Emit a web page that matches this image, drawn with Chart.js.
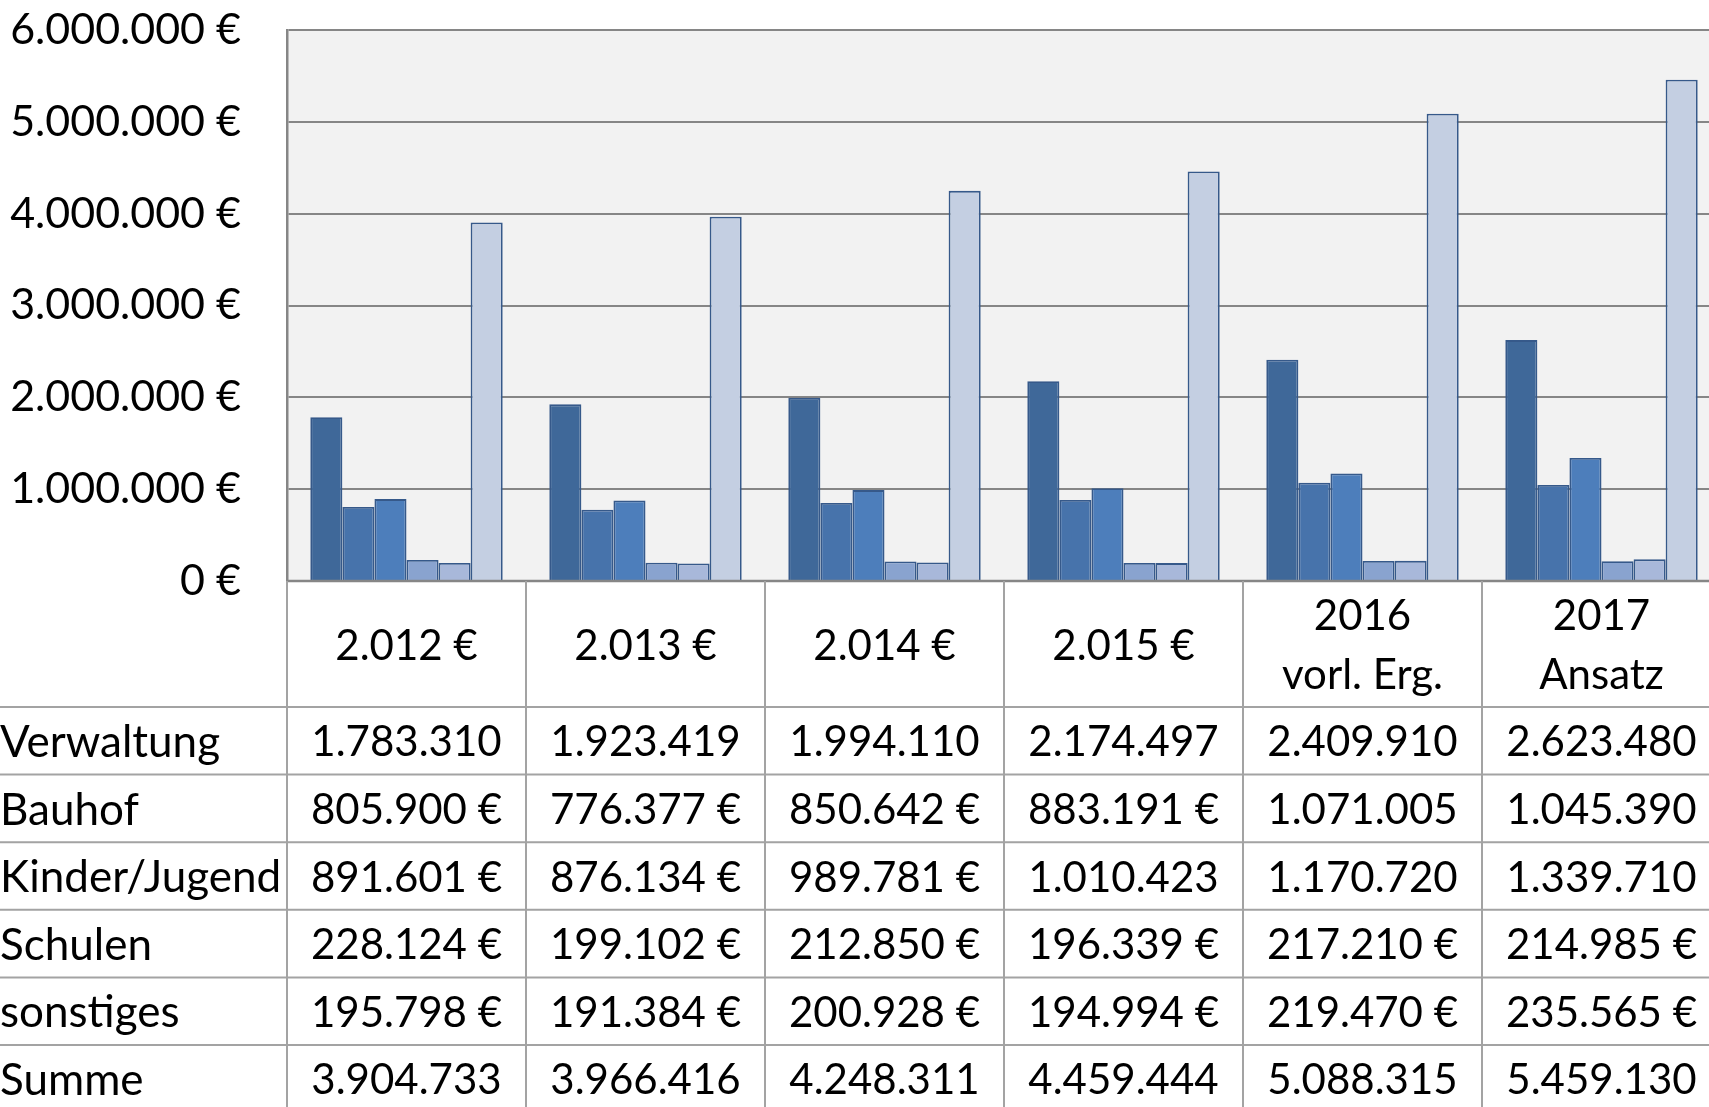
<!DOCTYPE html>
<html>
<head>
<meta charset="utf-8">
<script src="https://cdn.jsdelivr.net/npm/chart.js@4.4.1/dist/chart.umd.min.js"></script>
<style>
  html, body { margin: 0; padding: 0; background: #fff; overflow: hidden; }
  #wrap { position: absolute; left: 0; top: 0; }
</style>
</head>
<body>
<div id="wrap"><canvas id="chart" width="1730" height="1107"></canvas></div>
<script>
// Daten aus der Tabelle
var categories = ['2.012 €', '2.013 €', '2.014 €', '2.015 €', ['2016', 'vorl. Erg.'], ['2017', 'Ansatz']];
var verwaltung = [1783310, 1923419, 1994110, 2174497, 2409910, 2623480];
var bauhof     = [805900, 776377, 850642, 883191, 1071005, 1045390];
var kinder     = [891601, 876134, 989781, 1010423, 1170720, 1339710];
var schulen    = [228124, 199102, 212850, 196339, 217210, 214985];
var sonstiges  = [195798, 191384, 200928, 194994, 219470, 235565];
var summe      = [3904733, 3966416, 4248311, 4459444, 5088315, 5459130];
var rowNames   = ['Verwaltung', 'Bauhof', 'Kinder/Jugend', 'Schulen', 'sonstiges', 'Summe'];
var yTicks     = [0, 1000000, 2000000, 3000000, 4000000, 5000000, 6000000];

var colors = ['#3F6899', '#4773AB', '#4D7EBB', '#89A3CF', '#A8B8DA', '#C4CFE2'];
var rows = [verwaltung, bauhof, kinder, schulen, sonstiges, summe];

function fmt(v) {
  return String(v).replace(/\B(?=(\d{3})+(?!\d))/g, '.');
}
// in der Tabelle wird das € bei Millionenbeträgen abgeschnitten
function cellText(v) {
  return v >= 1000000 ? fmt(v) : fmt(v) + ' €';
}

var HEAD_H = 126, ROW_H = 67.6;
var LINE = '#A3A3A3';

var tablePlugin = {
  id: 'dataTable',
  beforeDraw: function(chart) {
    var a = chart.chartArea, ctx = chart.ctx;
    ctx.save();
    ctx.fillStyle = '#F2F2F2';
    ctx.fillRect(a.left, a.top, a.right - a.left, a.bottom - a.top);
    ctx.restore();
  },
  afterDraw: function(chart) {
    var ctx = chart.ctx, a = chart.chartArea, xs = chart.scales.x;
    var n = categories.length;
    var colW = (xs.right - xs.left) / n;
    var top = a.bottom;
    var W = chart.width, H = chart.height;

    ctx.save();
    // Achsenlinie unten
    ctx.strokeStyle = '#868686';
    ctx.lineWidth = 2.5;
    ctx.beginPath();
    ctx.moveTo(a.left, top); ctx.lineTo(W, top);
    ctx.stroke();

    ctx.strokeStyle = LINE;
    ctx.lineWidth = 2;
    ctx.beginPath();
    for (var i = 0; i <= n; i++) {
      var bx = xs.left + i * colW;
      ctx.moveTo(bx, top); ctx.lineTo(bx, H);
    }
    for (var r = 0; r < rows.length; r++) {
      var ly = top + HEAD_H + r * ROW_H;
      ctx.moveTo(0, ly); ctx.lineTo(W, ly);
    }
    ctx.stroke();

    ctx.fillStyle = '#000';
    ctx.font = '42px Lato';
    ctx.textBaseline = 'middle';
    ctx.textAlign = 'center';
    // Kopfzeile
    for (var c = 0; c < n; c++) {
      var cx = xs.getPixelForValue(c);
      var lab = categories[c];
      if (Array.isArray(lab)) {
        ctx.fillText(lab[0], cx, top + HEAD_H / 2 - 28);
        ctx.fillText(lab[1], cx, top + HEAD_H / 2 + 31);
      } else {
        ctx.fillText(lab, cx, top + HEAD_H / 2 + 2);
      }
    }
    // Datenzeilen
    for (var r2 = 0; r2 < rows.length; r2++) {
      var cy = top + HEAD_H + r2 * ROW_H + ROW_H / 2 + 2;
      ctx.textAlign = 'left';
      ctx.font = '44px Lato';
      ctx.fillText(rowNames[r2], 0, cy);
      ctx.textAlign = 'center';
      ctx.font = '42px Lato';
      for (var c2 = 0; c2 < n; c2++) {
        ctx.fillText(cellText(rows[r2][c2]), xs.getPixelForValue(c2), cy);
      }
    }
    ctx.restore();
  }
};

var datasets = rows.map(function(d, i) {
  return {
    label: rowNames[i],
    data: d,
    backgroundColor: colors[i],
    borderColor: '#36598A',
    borderWidth: 1.8,
    barPercentage: 1.0,
    categoryPercentage: 0.805
  };
});

var ctx = document.getElementById('chart').getContext('2d');
var chart = new Chart(ctx, {
  type: 'bar',
  data: { labels: categories, datasets: datasets },
  plugins: [tablePlugin],
  options: {
    responsive: false,
    animation: false,
    devicePixelRatio: 1,
    layout: { padding: { top: 30, right: 9, bottom: 526, left: 0 } },
    plugins: { legend: { display: false }, tooltip: { enabled: false } },
    scales: {
      x: { display: false },
      y: {
        min: 0,
        max: 6000000,
        afterBuildTicks: function(s) { s.ticks = yTicks.map(function(v) { return { value: v }; }); },
        afterFit: function(s) { s.width = 287; s.paddingTop = 0; s.paddingBottom = 0; },
        grid: { color: '#868686', lineWidth: 2, drawTicks: false },
        border: { display: true, color: '#868686', width: 2.5 },
        ticks: {
          padding: 46,
          color: '#000',
          font: { family: 'Lato', size: 43 },
          callback: function(v) { return fmt(v) + ' €'; }
        }
      }
    }
  }
});
</script>
</body>
</html>
